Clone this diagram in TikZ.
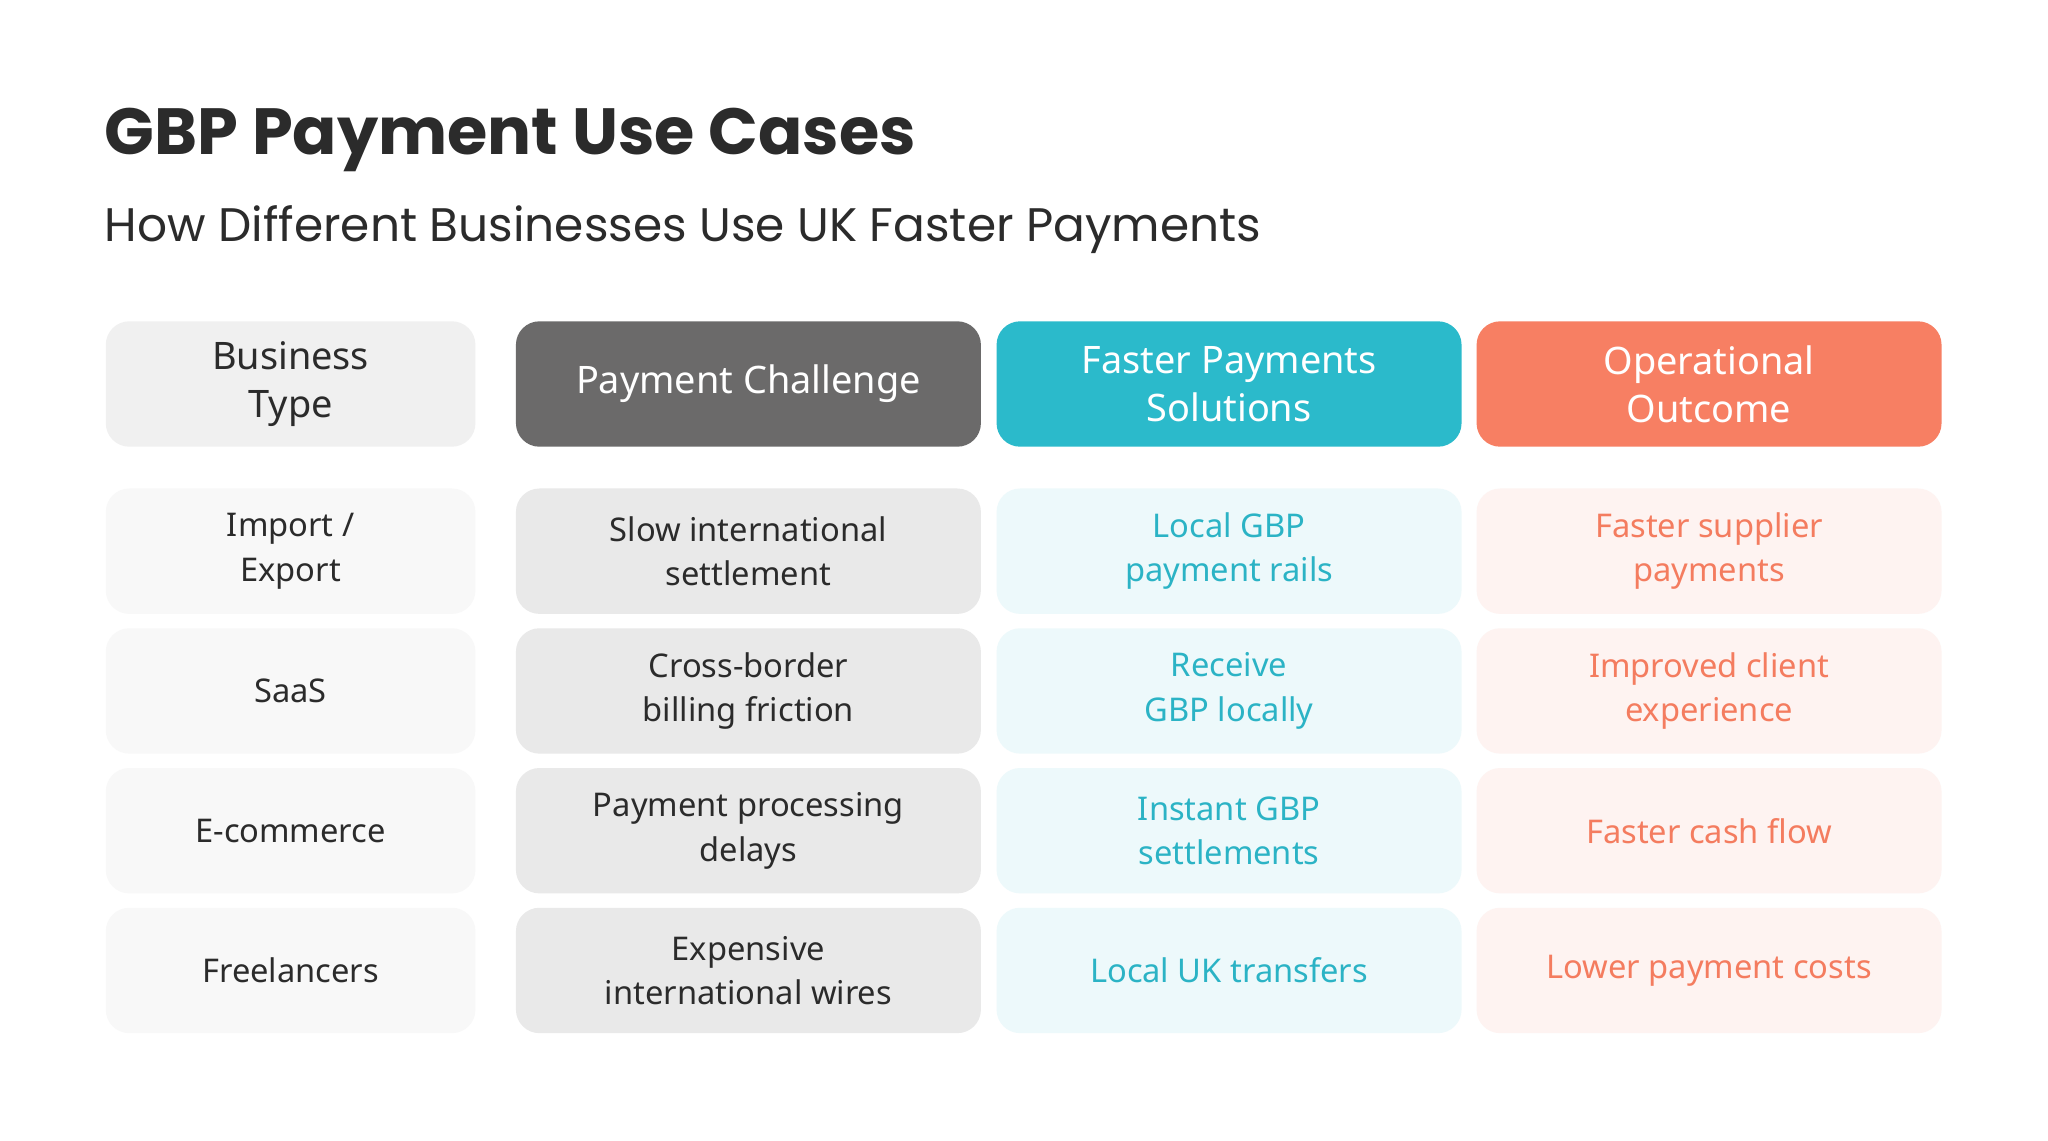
\documentclass[tikz,border=0pt]{standalone}
\usepackage{fontspec}
\setmainfont{Noto Sans}
\newfontfamily\titlefont{Poppins}
\definecolor{dark}{HTML}{2B2B2B}
\definecolor{hA}{HTML}{F0F0F0}
\definecolor{hB}{HTML}{6B6A6A}
\definecolor{hC}{HTML}{2BBACB}
\definecolor{hD}{HTML}{F77F63}
\definecolor{cA}{HTML}{F8F8F8}
\definecolor{cB}{HTML}{E9E9E9}
\definecolor{cC}{HTML}{EDF9FB}
\definecolor{cD}{HTML}{FEF3F1}
\definecolor{tC}{HTML}{2BB3C5}
\definecolor{tD}{HTML}{F47C5F}
\tikzset{
 cell/.style={rounded corners=18pt, minimum height=96pt, align=center, font=\fontsize{25}{34}\selectfont\bfseries, inner sep=0pt},
 wA/.style={cell, minimum width=283pt},
 wB/.style={cell, minimum width=356pt},
 hdr/.style={font=\fontsize{29}{37}\selectfont\bfseries}
}
\begin{document}
\begin{tikzpicture}[x=1pt,y=-1pt]
\useasboundingbox[fill=white] (0,0) rectangle (1568,873);
\node[anchor=base west, font=\titlefont\fontsize{50}{56}\selectfont\bfseries, text=dark, inner sep=0] (title) at (80,118) {GBP Payment Use Cases};
\node[anchor=base west, font=\titlefont\fontsize{36}{42}\selectfont, text=dark, inner sep=0] (sub) at (80,185) {How Different Businesses Use UK Faster Payments};
% headers
\node[wA, hdr, fill=hA, text=dark] (h1) at (222.5,294) {Business\\Type};
\node[wB, hdr, fill=hB, text=white] (h2) at (573,294) {Payment Challenge};
\node[wB, hdr, fill=hC, text=white] (h3) at (941,294) {Faster Payments\\Solutions};
\node[wB, hdr, fill=hD, text=white] (h4) at (1308.5,294) {Operational\\Outcome};
% rows
\foreach \y/\a/\b/\c/\d [count=\i] in {
 422/{Import /\\Export}/{Slow international\\settlement}/{Local GBP\\payment rails}/{Faster supplier\\payments},
 529/{SaaS}/{Cross-border\\billing friction}/{Receive\\GBP locally}/{Improved client\\experience},
 636/{E-commerce}/{Payment processing\\delays}/{Instant GBP\\settlements}/{Faster cash flow},
 743/{Freelancers}/{Expensive\\international wires}/{Local UK transfers}/{Lower payment costs}}{
 \node[wA, fill=cA, text=dark] (r\i a) at (222.5,\y) {\a};
 \node[wB, fill=cB, text=dark] (r\i b) at (573,\y) {\b};
 \node[wB, fill=cC, text=tC] (r\i c) at (941,\y) {\c};
 \node[wB, fill=cD, text=tD] (r\i d) at (1308.5,\y) {\d};
}
\end{tikzpicture}
\end{document}
